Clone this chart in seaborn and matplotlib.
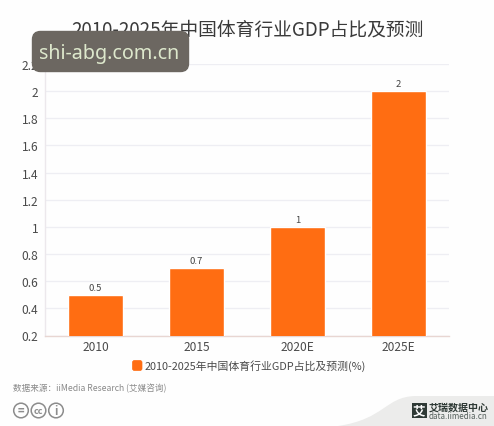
import matplotlib
matplotlib.use("Agg")
import matplotlib.pyplot as plt
from matplotlib.patches import FancyBboxPatch, Circle, PathPatch, Rectangle
from matplotlib.path import Path
import pandas as pd
import seaborn as sns

years = ["2010", "2015", "2020E", "2025E"]
shares = [0.5, 0.7, 1, 2]
value_labels = ["0.5", "0.7", "1", "2"]
y_ticks = [0.2, 0.4, 0.6, 0.8, 1, 1.2, 1.4, 1.6, 1.8, 2, 2.2]
y_tick_labels = ["0.2", "0.4", "0.6", "0.8", "1", "1.2", "1.4", "1.6", "1.8", "2", "2.2"]
title = "2010-2025年中国体育行业GDP占比及预测"
series_name = "2010-2025年中国体育行业GDP占比及预测(%)"
source = "数据来源：iiMedia Research (艾媒咨询)"

sns.set_theme(style="white")
plt.rcParams["font.family"] = ["Noto Sans CJK SC", "DejaVu Sans"]

W, H = 494, 427
ORANGE = "#FF6D12"
fig = plt.figure(figsize=(W / 100, H / 100), dpi=100, facecolor="#FEFEFE")
ax = fig.add_axes([45.2 / W, 1 - 336.5 / H, 403.8 / W, 271.5 / H])
ax.set_facecolor("none")

df = pd.DataFrame({"year": years, "share": shares})
sns.barplot(data=df, x="year", y="share", color=ORANGE, saturation=1, width=0.545, ax=ax, zorder=3)

ax.set_ylim(0.2, 2.2)
ax.set_yticks(y_ticks, y_tick_labels)
ax.set_xlabel("")
ax.set_ylabel("")
ax.grid(axis="y", color="#EEEEF3", lw=0.9, zorder=0)
ax.tick_params(axis="both", length=0, labelsize=8.6, labelcolor="#4A4A4A")
ax.tick_params(axis="x", pad=3)
ax.tick_params(axis="y", pad=5)
for side in ("top", "right"):
    ax.spines[side].set_visible(False)
ax.spines["left"].set_color("#ECE8EC")
ax.spines["left"].set_linewidth(1)
ax.spines["bottom"].set_color("#E8D6D2")
ax.spines["bottom"].set_linewidth(1)

for i, (value, label) in enumerate(zip(shares, value_labels)):
    ax.annotate(label, (i, value), xytext=(0, 2), textcoords="offset points",
                ha="center", va="bottom", fontsize=6.8, color="#444444", zorder=4)

# Overlay axes in pixel coordinates for the page furniture
page = fig.add_axes([0, 0, 1, 1], zorder=5)
page.set_xlim(0, W)
page.set_ylim(H, 0)
page.axis("off")
page.patch.set_alpha(0)

page.text(247.5, 30, title, ha="center", va="center", fontsize=13.5, color="#3A3A3A")

# Rounded label over the upper left corner
page.add_patch(FancyBboxPatch((32.5, 32.5), 156, 40, boxstyle="round,pad=0,rounding_size=8",
                              fc="#6C6761", ec="#6C6761", lw=1, zorder=6))
page.text(109.5, 53.5, "shi-abg.com.cn", ha="center", va="center", fontsize=14.2,
          color="#DDE8CC", family="Noto Sans", zorder=7)

# Legend entry
page.add_patch(FancyBboxPatch((132.5, 361.5), 9.5, 10, boxstyle="round,pad=0,rounding_size=2",
                              fc=ORANGE, ec=ORANGE, lw=0.5))
page.text(145, 366, series_name, ha="left", va="center", fontsize=7.8, color="#4A4A4A")

page.text(13, 388.5, source, ha="left", va="center", fontsize=6.2, color="#8A8A8A")

# Licence badges
for cx, mark in zip((21, 38.5, 56), ("=", "cc", "i")):
    page.add_patch(Circle((cx, 411.5), 7.3, fc="none", ec="#8C8C8C", lw=1.1))
    page.text(cx, 411.2, mark, ha="center", va="center", fontsize=6.5 if mark == "cc" else 8,
              color="#8C8C8C", fontweight="bold")

# Grey swoosh and brand mark in the lower right corner
swoosh = Path([(338, 427), (385, 420), (385, 398), (415, 397), (494, 397), (494, 427), (338, 427)],
              [Path.MOVETO, Path.CURVE4, Path.CURVE4, Path.CURVE4, Path.LINETO, Path.LINETO, Path.CLOSEPOLY])
page.add_patch(PathPatch(swoosh, fc="#ECECEB", ec="none"))
page.add_patch(Rectangle((411.5, 404), 15, 15, fc="#2F3A36", ec="none"))
page.text(419, 411.5, "艾", ha="center", va="center", fontsize=9, color="white", fontweight="bold")
page.text(429, 408, "艾瑞数据中心", ha="left", va="center", fontsize=7.2, color="#2F3A36", fontweight="bold")
page.text(429, 416.5, "data.iimedia.cn", ha="left", va="center", fontsize=5.8, color="#55605C")

fig.savefig("out.png", dpi=100, facecolor=fig.get_facecolor())
